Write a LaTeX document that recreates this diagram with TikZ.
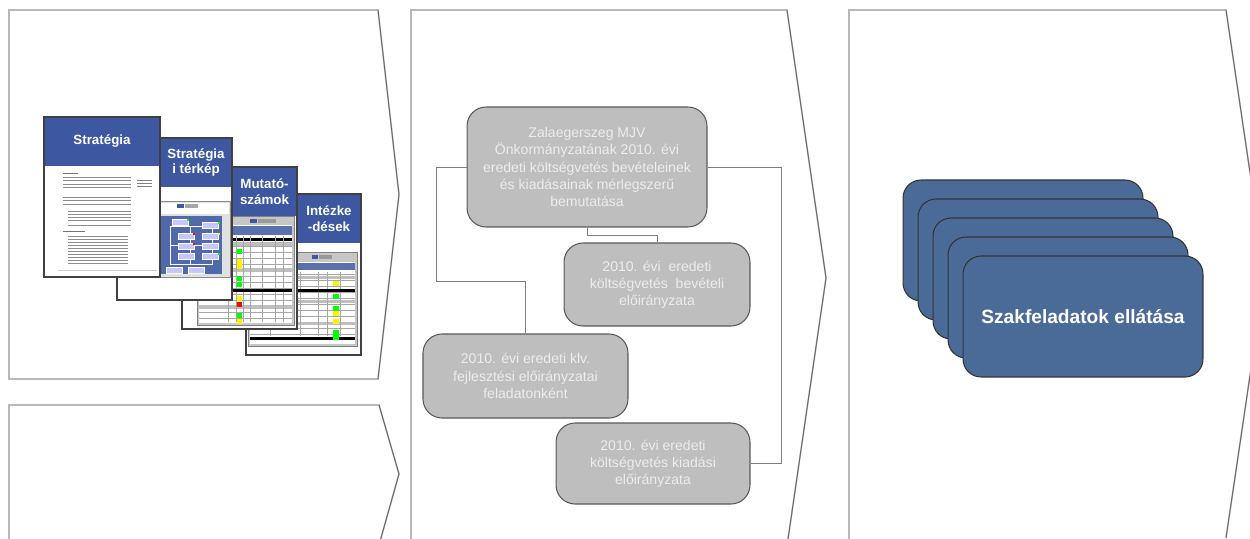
\documentclass[tikz,border=0pt]{standalone}
\usepackage{fontspec}
\setmainfont{Liberation Sans}
\usepackage{tikz}

\definecolor{docblue}{RGB}{61,88,160}
\definecolor{cardblue}{RGB}{74,106,152}
\definecolor{boxgray}{RGB}{190,190,190}
\definecolor{boxtext}{RGB}{236,236,236}
\definecolor{linkgray}{RGB}{125,125,125}

\begin{document}
\begin{tikzpicture}[x=0.02cm,y=-0.02cm,
  panel/.style={draw=black!28,line width=0.9pt},
  panelarrow/.style={draw=black!60,line width=0.5pt},
  docedge/.style={draw=black!75,line width=0.6pt},
  doctitle/.style={text=white,align=center,inner sep=0pt,
    font=\fontsize{7.6}{9}\selectfont\bfseries},
  budget/.style={draw=black!65,fill=boxgray,rounded corners=0.38cm,text=boxtext,
    align=center,inner sep=2pt,line width=0.6pt,font=\fontsize{8}{9.8}\selectfont},
  link/.style={draw=linkgray,line width=0.5pt},
  card/.style={draw=black!80,fill=cardblue,rounded corners=0.36cm,
    minimum width=4.8cm,minimum height=2.42cm,line width=0.6pt}]
\clip (0,0) rectangle (1250,538);

% four chevron panels
\draw[panel] (9,10) -- (378,10) -- (399,194.5) -- (378,379) -- (9,379) -- cycle;
\draw[panel] (9,545) -- (9,405) -- (379,405) -- (399,474) -- (379,545);
\draw[panel] (411,546) -- (411,10) -- (787,10) -- (826,278) -- (787,546);
\draw[panel] (849,546) -- (849,10) -- (1226,10) -- (1265,274) -- (1226,538);
\draw[panelarrow] (378,10) -- (399,194.5) -- (378,379);
\draw[panelarrow] (379,405) -- (399,474) -- (379,545);
\draw[panelarrow] (787,10) -- (826,278) -- (787,546);
\draw[panelarrow] (1226,10) -- (1265,274) -- (1226,538);

% --- documents, back to front ---
% Intezkedesek
\fill[white] (246,194) rectangle (361,355);
\fill[docblue] (246,194) rectangle (361,243);
\filldraw[draw=black!50,fill=black!22] (248,252) rectangle (357,346);
\fill[white] (250,262) rectangle (355,344);
\fill[docblue] (312,255) rectangle (318,259);
\fill[black!40] (319,255) rectangle (332,259);
\fill[docblue!85] (250,263) rectangle (355,270);
\foreach \y in {274,280,...,334} \draw[black!35,line width=0.3pt] (250,\y) -- (355,\y);
\foreach \y in {276,300,322} \fill[black!25] (250,\y) rectangle (355,\y+3);
\foreach \x in {270,300,318,327,340} \draw[black!35,line width=0.3pt] (\x,272) -- (\x,336);
\fill[black] (250,289) rectangle (355,292);
\fill[black] (250,337) rectangle (355,340);
\foreach \y/\c in {281/yellow,294/green,306/green,311/yellow,319/yellow,330/green,335/green}
  \fill[\c] (333,\y) rectangle (339,\y+5);
\draw[docedge] (246,194) rectangle (361,355);
\node[doctitle] (intezk) at (329,218.5) {Intézke\\-dések};

% Mutatoszamok
\fill[white] (182,167) rectangle (297,329);
\fill[docblue] (182,167) rectangle (297,216);
\filldraw[draw=black!50,fill=black!22] (197,216) rectangle (294,325);
\fill[white] (199,225) rectangle (292,323);
\fill[docblue] (250,219) rectangle (257,223);
\fill[black!40] (258,219) rectangle (276,223);
\fill[docblue!85] (199,226) rectangle (292,235);
\fill[black] (199,238) rectangle (292,241);
\foreach \y in {246,252,...,322} \draw[black!35,line width=0.3pt] (199,\y) -- (292,\y);
\foreach \y in {242,268,305} \fill[black!25] (199,\y) rectangle (292,\y+4);
\foreach \x in {228,236,243,250,262,275,283} \draw[black!35,line width=0.3pt] (\x,236) -- (\x,322);
\fill[black] (199,289) rectangle (292,292);
\foreach \y/\c in {249/green,259/yellow,264/yellow,276/green,282/green,296/yellow,302/red,313/green,319/yellow}
  \fill[\c] (237,\y) rectangle (242,\y+5);
\draw[docedge] (182,167) rectangle (297,329);
\node[doctitle] (mutato) at (264.5,191.5) {Mutató-\\számok};

% Strategiai terkep
\fill[white] (117,138) rectangle (232,300);
\fill[docblue] (117,138) rectangle (232,187);
\filldraw[draw=black!45,fill=black!12] (160,201) rectangle (230,277);
\fill[white] (161,203) rectangle (229,214);
\fill[docblue] (177,204) rectangle (184,208);
\fill[black!35] (185,204) rectangle (198,208);
\fill[docblue!90] (161,216) rectangle (222,274);
\draw[white,line width=0.4pt] (170,226) -- (170,264) -- (212,264) -- (212,226) -- cycle;
\draw[white,line width=0.4pt] (170,245) -- (212,245) (190,226) -- (190,264);
\foreach \x/\y in {172/219,202/222,178/233,202/233,178/243,202/243,178/253,202/253,166/267,188/267}
  \filldraw[draw=white,fill=blue!22!white,line width=0.3pt] (\x,\y) rectangle (\x+16,\y+6);
\foreach \x/\y/\c in {187/219/green,218/222/green,193/233/red,218/233/yellow,193/243/red,218/253/green}
  \fill[\c] (\x,\y) rectangle (\x+2,\y+2);
\draw[docedge] (117,138) rectangle (232,300);
\node[doctitle] (stratmap) at (196,162.5) {Stratégia\\i térkép};

% Strategia
\fill[white] (44,117) rectangle (160,277);
\fill[docblue] (44,117) rectangle (160,166);
\draw[black!55,line width=0.5pt] (63,173) -- (78,173);
\foreach \y in {177,180.5,...,190} \draw[black!45,line width=0.45pt] (63,\y) -- (131,\y);
\foreach \y in {197,200.5,204} \draw[black!45,line width=0.45pt] (63,\y) -- (131,\y);
\foreach \y in {211,214,217,220,225} \draw[black!45,line width=0.45pt] (68,\y) -- (131,\y);
\draw[black!55,line width=0.5pt] (63,231) -- (85,231);
\foreach \y in {236,239,...,263} \draw[black!45,line width=0.45pt] (68,\y) -- (128,\y);
\foreach \y in {180,183,186} \draw[black!50,line width=0.45pt] (137,\y) -- (152,\y);
\draw[black!20,line width=0.4pt] (58,270) -- (157,270);
\draw[docedge] (44,117) rectangle (160,277);
\node[doctitle] (strat) at (102,141.5) {Stratégia};

% --- budget boxes ---
\node[budget,minimum width=4.8cm,minimum height=2.4cm] (merleg) at (587,167)
  {Zalaegerszeg MJV\\Önkormányzatának 2010. évi\\eredeti költségvetés bevételeinek\\és kiadásainak mérlegszerű\\bemutatása};
\node[budget,minimum width=3.72cm,minimum height=1.66cm] (bevetel) at (657,284.5)
  {2010. évi \ eredeti\\költségvetés \ bevételi\\előirányzata};
\node[budget,minimum width=4.1cm,minimum height=1.68cm] (fejleszt) at (525.5,376)
  {2010. évi eredeti klv.\\fejlesztési előirányzatai\\feladatonként};
\node[budget,minimum width=3.88cm,minimum height=1.62cm] (kiadas) at (653,463.5)
  {2010. évi eredeti\\költségvetés kiadási\\előirányzata};

\draw[link] (merleg.west) -| (436,281) -| (fejleszt.north);
\draw[link] (merleg.south) -- ++(0,8) -| (bevetel.north);
\draw[link] (merleg.east) -- ++(74,0) |- (kiadas.east);

% --- stacked task cards ---
\foreach \i in {0,...,3}
  \node[card] (card\i) at (1023+15*\i,240.5+19*\i) {};
\node[card,text=white,font=\fontsize{10.9}{13}\selectfont\bfseries] (card4) at (1083,316.5)
  {Szakfeladatok ellátása};
\end{tikzpicture}
\end{document}
